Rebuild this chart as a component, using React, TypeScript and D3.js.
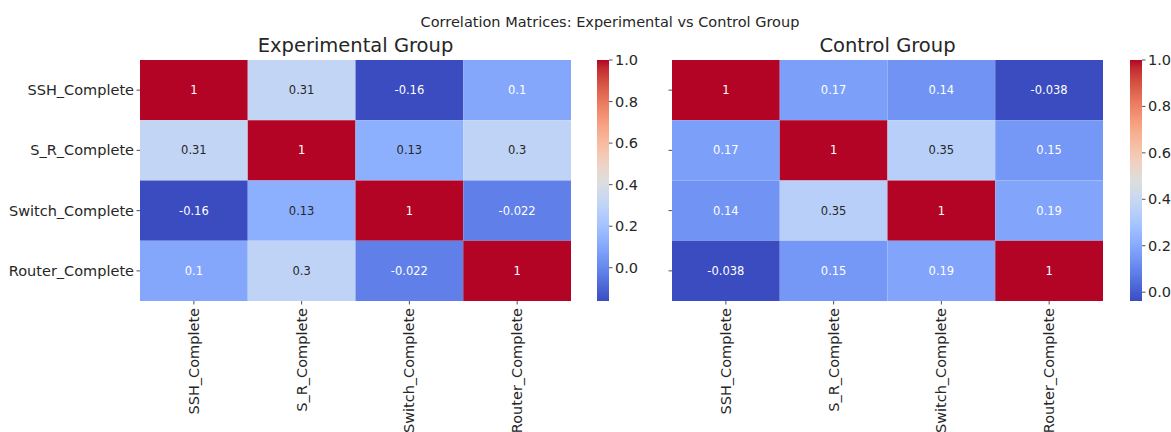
import React from "react";
import * as d3 from "d3";

// Variables shown on both axes
const variables = ["SSH_Complete", "S_R_Complete", "Switch_Complete", "Router_Complete"];

// Pairwise correlations, row-major
const experimentalCorr = [
  [1, 0.31, -0.16, 0.1],
  [0.31, 1, 0.13, 0.3],
  [-0.16, 0.13, 1, -0.022],
  [0.1, 0.3, -0.022, 1],
];
const controlCorr = [
  [1, 0.17, 0.14, -0.038],
  [0.17, 1, 0.35, 0.15],
  [0.14, 0.35, 1, 0.19],
  [-0.038, 0.15, 0.19, 1],
];

const colorbarTicks = [0, 0.2, 0.4, 0.6, 0.8, 1.0];

const figureTitle = "Correlation Matrices: Experimental vs Control Group";
const panelTitles = ["Experimental Group", "Control Group"];

// matplotlib "coolwarm" control points
const coolwarmStops: [number, number, number][] = [
  [59, 76, 192], [68, 90, 204], [77, 104, 215], [87, 117, 225], [98, 130, 234],
  [108, 142, 241], [119, 154, 247], [130, 165, 251], [141, 176, 254], [152, 185, 255],
  [163, 194, 255], [174, 201, 253], [184, 208, 249], [194, 213, 244], [204, 217, 238],
  [213, 219, 230], [221, 221, 221], [229, 216, 209], [236, 211, 197], [241, 204, 185],
  [245, 196, 173], [247, 187, 160], [247, 177, 148], [247, 166, 135], [244, 154, 123],
  [241, 141, 111], [236, 127, 99], [229, 112, 88], [222, 96, 77], [213, 80, 66],
  [203, 62, 56], [192, 40, 47], [180, 4, 38],
];
const coolwarm = d3
  .scaleLinear<string>()
  .domain(coolwarmStops.map((_, i) => i / (coolwarmStops.length - 1)))
  .range(coolwarmStops.map(([r, g, b]) => `rgb(${r},${g},${b})`))
  .interpolate(d3.interpolateRgb)
  .clamp(true);

function luminance(color: string) {
  const c = d3.rgb(color);
  const lin = (v: number) => {
    const s = v / 255;
    return s <= 0.03928 ? s / 12.92 : Math.pow((s + 0.055) / 1.055, 2.4);
  };
  return 0.2126 * lin(c.r) + 0.7152 * lin(c.g) + 0.0722 * lin(c.b);
}

const FONT = "DejaVu Sans, sans-serif";
const TEXT = "#262626";
const TICK_FS = 14.5;

type PanelProps = {
  id: string;
  title: string;
  matrix: number[][];
  x0: number;
  x1: number;
  cbX: number;
  showYLabels: boolean;
};

const Y0 = 60;
const Y1 = 301;
const CB_W = 12;

function Panel({ id, title, matrix, x0, x1, cbX, showYLabels }: PanelProps) {
  const vmin = d3.min(matrix.flat()) as number;
  const vmax = 1;
  const norm = d3.scaleLinear().domain([vmin, vmax]).range([0, 1]);
  const color = (v: number) => coolwarm(norm(v));

  const xBand = d3.scaleBand<string>().domain(variables).range([x0, x1]);
  const yBand = d3.scaleBand<string>().domain(variables).range([Y0, Y1]);
  const cbScale = d3.scaleLinear().domain([vmin, vmax]).range([Y1, Y0]);

  const gradStops = d3.range(0, 1.0001, 1 / 64);

  return (
    <g>
      <defs>
        <linearGradient id={id} x1="0" y1="1" x2="0" y2="0">
          {gradStops.map((t) => (
            <stop key={t} offset={t} stopColor={coolwarm(t)} />
          ))}
        </linearGradient>
      </defs>

      {/* heatmap cells */}
      {matrix.map((row, i) =>
        row.map((v, j) => {
          const fill = color(v);
          const x = xBand(variables[j]) as number;
          const y = yBand(variables[i]) as number;
          return (
            <g key={`${i}-${j}`}>
              <rect x={x} y={y} width={xBand.bandwidth()} height={yBand.bandwidth()} fill={fill} />
              <text
                x={x + xBand.bandwidth() / 2}
                y={y + yBand.bandwidth() / 2}
                textAnchor="middle"
                dominantBaseline="central"
                fontFamily={FONT}
                fontSize={11.5}
                fill={luminance(fill) > 0.408 ? TEXT : "#ffffff"}
              >
                {String(v)}
              </text>
            </g>
          );
        })
      )}

      {/* panel title */}
      <text
        x={(x0 + x1) / 2}
        y={Y0 - 8}
        textAnchor="middle"
        fontFamily={FONT}
        fontSize={19.5}
        fill={TEXT}
      >
        {title}
      </text>

      {/* y axis */}
      {variables.map((v) => {
        const cy = (yBand(v) as number) + yBand.bandwidth() / 2;
        return (
          <g key={`y-${v}`}>
            <line x1={x0 - 3.5} x2={x0} y1={cy} y2={cy} stroke={TEXT} strokeWidth={0.8} />
            {showYLabels && (
              <text
                x={x0 - 6}
                y={cy}
                textAnchor="end"
                dominantBaseline="central"
                fontFamily={FONT}
                fontSize={TICK_FS}
                fill={TEXT}
              >
                {v}
              </text>
            )}
          </g>
        );
      })}

      {/* x axis */}
      {variables.map((v) => {
        const cx = (xBand(v) as number) + xBand.bandwidth() / 2;
        return (
          <g key={`x-${v}`}>
            <line x1={cx} x2={cx} y1={Y1} y2={Y1 + 3.5} stroke={TEXT} strokeWidth={0.8} />
            <text
              transform={`translate(${cx},${Y1 + 7}) rotate(-90)`}
              textAnchor="end"
              dominantBaseline="central"
              fontFamily={FONT}
              fontSize={TICK_FS}
              fill={TEXT}
            >
              {v}
            </text>
          </g>
        );
      })}

      {/* colorbar */}
      <rect x={cbX} y={Y0} width={CB_W} height={Y1 - Y0} fill={`url(#${id})`} />
      {colorbarTicks.map((t) => {
        const ty = cbScale(t);
        return (
          <g key={`cb-${t}`}>
            <line x1={cbX + CB_W} x2={cbX + CB_W + 3.5} y1={ty} y2={ty} stroke={TEXT} strokeWidth={0.8} />
            <text
              x={cbX + CB_W + 6}
              y={ty}
              dominantBaseline="central"
              fontFamily={FONT}
              fontSize={TICK_FS}
              fill={TEXT}
            >
              {t.toFixed(1)}
            </text>
          </g>
        );
      })}
    </g>
  );
}

export default function App() {
  return (
    <svg
      width={1171}
      height={432}
      style={{ position: "absolute", left: 0, top: 0, background: "#fff" }}
    >
      <rect width={1171} height={432} fill="#fff" />
      <text x={610} y={22} textAnchor="middle" dominantBaseline="central" fontFamily={FONT} fontSize={14.5} fill={TEXT}>
        {figureTitle}
      </text>
      <Panel id="cb-exp" title={panelTitles[0]} matrix={experimentalCorr} x0={140} x1={571} cbX={597} showYLabels />
      <Panel id="cb-ctrl" title={panelTitles[1]} matrix={controlCorr} x0={672} x1={1103} cbX={1130} showYLabels={false} />
    </svg>
  );
}
